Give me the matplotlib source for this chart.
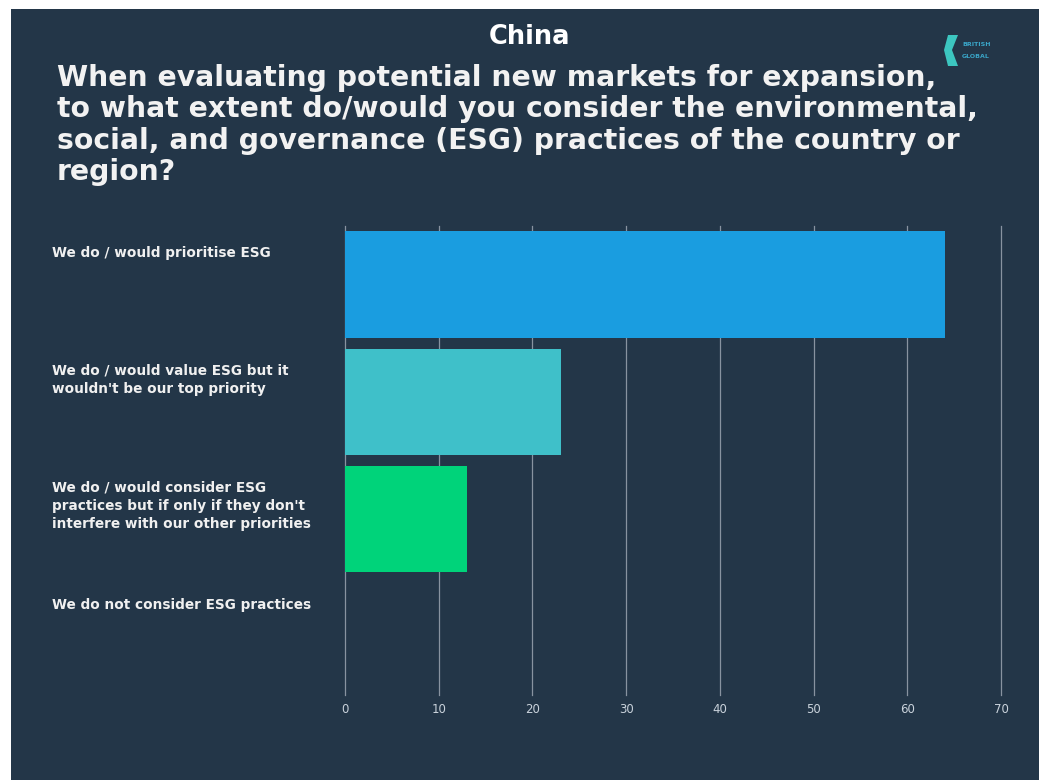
import matplotlib
matplotlib.use("Agg")
import matplotlib.pyplot as plt
from matplotlib.patches import Rectangle, Polygon
from matplotlib.transforms import blended_transform_factory

categories = [
    "We do / would prioritise ESG",
    "We do / would value ESG but it\nwouldn't be our top priority",
    "We do / would consider ESG\npractices but if only if they don't\ninterfere with our other priorities",
    "We do not consider ESG practices",
]
values = [64, 23, 13, 0]
bar_colors = ["#1a9de0", "#3fc0c9", "#00d37a", "#00d37a"]
xticks = [0, 10, 20, 30, 40, 50, 60, 70]

W, H = 1039, 780
BG = "#233648"
fig = plt.figure(figsize=(W / 100, H / 100), dpi=100)
fig.patch.set_facecolor("white")
fig.patches.append(Rectangle((11 / W, 0), 1 - 11 / W, 1 - 9 / H,
                             transform=fig.transFigure, facecolor=BG,
                             edgecolor="none", zorder=-5))

# Title texts
fig.text(530 / W, 1 - 37 / H, "China", color="white", fontsize=18.5,
         fontweight="bold", ha="center", va="center", family="DejaVu Sans")
question = ("When evaluating potential new markets for expansion,\n"
            "to what extent do/would you consider the environmental,\n"
            "social, and governance (ESG) practices of the country or\n"
            "region?")
fig.text(57 / W, 1 - 64 / H, question, color="#f2f2f2", fontsize=20.3,
         fontweight="bold", ha="left", va="top", linespacing=1.15,
         family="DejaVu Sans")

# small logo approximation
fig.patches.append(Polygon([[948 / W, 1 - 35 / H], [958 / W, 1 - 35 / H],
                            [952 / W, 1 - 50 / H], [958 / W, 1 - 66 / H],
                            [948 / W, 1 - 66 / H], [944 / W, 1 - 50 / H]],
                           closed=True, transform=fig.transFigure,
                           facecolor="#3cc6c0", edgecolor="none", zorder=2))
fig.text(962 / W, 1 - 44 / H, "BRITISH", color="#3aa6c8", fontsize=4.5,
         fontweight="bold", ha="left", va="center")
fig.text(962 / W, 1 - 56 / H, "GLOBAL", color="#3aa6c8", fontsize=4.5,
         fontweight="bold", ha="left", va="center")

ax = fig.add_axes([345 / W, 1 - 695 / H, (1001 - 345) / W, (695 - 226) / H])
ax.set_facecolor("none")
ypos = list(range(len(categories)))
ax.barh(ypos, values, height=0.91, color=bar_colors, zorder=3)
ax.set_xlim(0, 70)
ax.set_ylim(len(categories) - 0.5, -0.5)
ax.set_xticks(xticks)
ax.set_xticklabels([str(t) for t in xticks])
ax.set_yticks([])
ax.grid(axis="x", color="#8893a0", linewidth=0.9, zorder=1)
for gl in ax.get_xgridlines():
    gl.set_clip_on(False)
for s in ax.spines.values():
    s.set_visible(False)
ax.tick_params(axis="x", length=0, colors="#c9d2db", labelsize=8.5, pad=6)

trans = blended_transform_factory(fig.transFigure, ax.transData)
for i, lab in enumerate(categories):
    fig.text(52 / W, i - 0.33, lab, transform=trans, color="#f0f0f0",
             fontsize=9.8, fontweight="bold", ha="left", va="top",
             linespacing=1.4)

fig.savefig("out.png", dpi=100, facecolor=fig.get_facecolor())
